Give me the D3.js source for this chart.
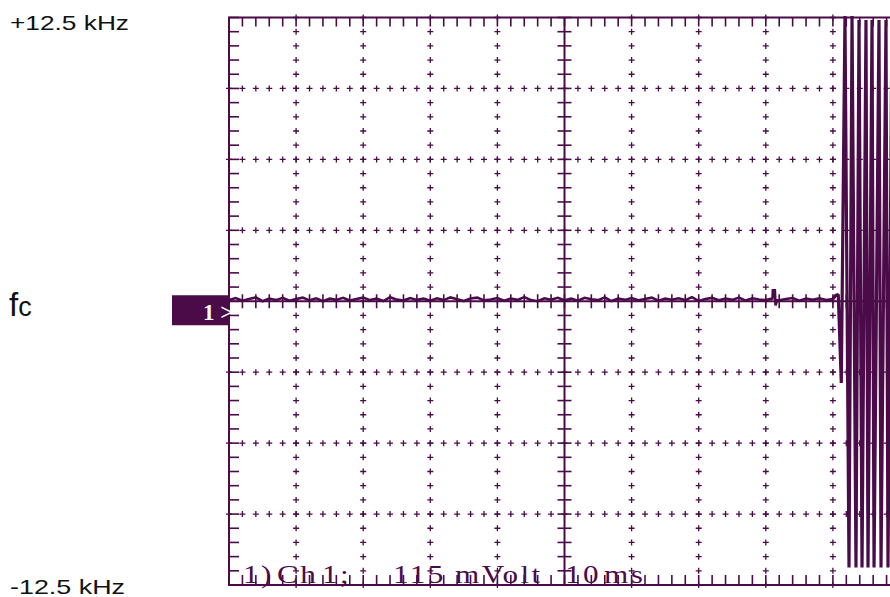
<!DOCTYPE html>
<html>
<head>
<meta charset="utf-8">
<script src="https://cdn.jsdelivr.net/npm/d3@7"></script>
<style>
  body { margin: 0; background: #fff; }
  svg { display: block; }
</style>
</head>
<body>
<script>
// frequency labels on the left (kHz)
var freqLabels = ["+12.5 kHz", "fc", "-12.5 kHz"];
var statusText = ["1)", "Ch", "1;", "115", "mVolt", "10", "ms"];

// trace: deviation from fc (kHz), one sample per ms from 0 to 90 ms
var noise = [0.05, 0.14, 0.02, 0.1, 0.17, 0.0, 0.12, 0.05, 0.15, 0.02,
    0.1, 0.16, 0.04, 0.13, 0.0, 0.12, 0.06, 0.15, 0.03, 0.1,
    0.16, 0.05, 0.12, 0.01, 0.18, 0.07, 0.03, 0.14, 0.06, 0.12,
    0.02, 0.13, 0.05, 0.17, 0.09, 0.01, 0.12, 0.16, 0.04, 0.08,
    0.14, 0.02, 0.12, 0.06, 0.18, 0.05, 0.0, 0.13, 0.07, 0.15,
    0.04, 0.12, 0.02, 0.15, 0.09, 0.05, 0.17, 0.01, 0.12, 0.06,
    0.14, 0.04, 0.1, 0.16, 0.02, 0.12, 0.07, 0.13, 0.05, 0.18,
    0.01, 0.1, 0.15, 0.04, 0.12, 0.06, 0.16, 0.03, 0.13, 0.08,
    0.05, 0.12, 0.04, 0.1, 0.14, 0.02, 0.12, 0.06, 0.13, 0.05, 0.1];
// small glitch near 81 ms
var glitchT = [81.05, 81.35, 81.45, 81.7];
var glitchF = [0.48, 0.48, -0.18, 0.05];
// burst at the end of the sweep
var burstT = [90.4, 90.8, 91.25, 91.8, 92.4, 92.85, 93.44, 93.89, 94.34, 94.93, 95.23, 95.83, 96.13, 96.87, 97.17, 97.91, 98.21, 98.8];
var burstF = [0.25, 0.3, -3.6, 12.57, -11.73, 12.57, -11.73, 12.39, -11.73, 12.39, -11.73, 12.39, -11.73, 12.39, -11.73, 12.39, -11.73, 12.39];

var width = 890,
    height = 597;
var col = "#4b0b49";

var svg = d3.select("body")
    .append("svg")
    .attr("width", width)
    .attr("height", height);

// 10 ms / div, 10 divs ; 3.125 kHz / div, 8 divs
var x = d3.scaleLinear().domain([0, 100]).range([229, 900]);
var y = d3.scaleLinear().domain([-12.5, 12.5]).range([585, 17.5]);

var minorX = d3.range(0, 100.01, 2);
var minorY = d3.range(-12.5, 12.51, 0.625);
var majorX = d3.range(10, 100, 10);
var majorY = d3.range(-9.375, 12.5, 3.125);

var grid = svg.append("g").attr("stroke", col).attr("fill", "none");

// frame
grid.append("path")
    .attr("stroke-width", 2)
    .attr("d", "M" + x(100) + "," + y(12.5) + "H" + x(0) + "V" + y(-12.5) + "H" + x(100));

// edge ticks
grid.selectAll(".tt").data(minorX).enter().append("line")
    .attr("x1", d => x(d)).attr("x2", d => x(d))
    .attr("y1", y(12.5)).attr("y2", y(12.5) + 9)
    .attr("stroke-width", 1.6);
grid.selectAll(".bt").data(minorX).enter().append("line")
    .attr("x1", d => x(d)).attr("x2", d => x(d))
    .attr("y1", y(-12.5)).attr("y2", y(-12.5) - 10)
    .attr("stroke-width", 1.6);
grid.selectAll(".lt").data(minorY).enter().append("line")
    .attr("x1", x(0)).attr("x2", x(0) + 10)
    .attr("y1", d => y(d)).attr("y2", d => y(d))
    .attr("stroke-width", 1.6);

// centre axes
grid.append("line")
    .attr("x1", x(0)).attr("x2", width)
    .attr("y1", y(0)).attr("y2", y(0))
    .attr("stroke-width", 2);
grid.append("line")
    .attr("x1", x(50)).attr("x2", x(50))
    .attr("y1", y(12.5)).attr("y2", y(-12.5))
    .attr("stroke-width", 2);
grid.selectAll(".cx").data(minorX).enter().append("line")
    .attr("x1", d => x(d)).attr("x2", d => x(d))
    .attr("y1", y(0) - 7).attr("y2", y(0) + 7)
    .attr("stroke-width", 1.6);
grid.selectAll(".cy").data(minorY).enter().append("line")
    .attr("x1", x(50) - 7).attr("x2", x(50) + 7)
    .attr("y1", d => y(d)).attr("y2", d => y(d))
    .attr("stroke-width", 1.6);

// dotted grid: small crosses
var crosses = [];
majorX.forEach(function (mx) {
    if (mx === 50) return;
    minorY.forEach(function (my) { crosses.push([mx, my]); });
});
majorY.forEach(function (my) {
    if (Math.abs(my) < 1e-9) return;
    minorX.forEach(function (mx) { crosses.push([mx, my]); });
});
grid.selectAll(".cr").data(crosses).enter().append("path")
    .attr("stroke-width", 1.3)
    .attr("d", function (d) {
        var px = x(d[0]), py = y(d[1]);
        return "M" + (px - 3) + "," + py + "H" + (px + 3) + "M" + px + "," + (py - 3) + "V" + (py + 3);
    });

// trace
var pts = noise.map(function (v, i) { return [i, v]; });
glitchT.forEach(function (t, i) { pts.push([t, glitchF[i]]); });
pts.sort(function (a, b) { return a[0] - b[0]; });
var burst = burstT.map(function (t, i) { return [t, burstF[i]]; });
burst.unshift(pts[pts.length - 1]);

var line = d3.line().x(d => x(d[0])).y(d => y(d[1]));
svg.append("path")
    .datum(pts)
    .attr("d", line)
    .attr("fill", "none")
    .attr("stroke", col)
    .attr("stroke-width", 2.6);
svg.append("path")
    .datum(burst)
    .attr("d", line)
    .attr("fill", "none")
    .attr("stroke", col)
    .attr("stroke-width", 3.2)
    .attr("stroke-linejoin", "bevel");

// channel marker
svg.append("rect")
    .attr("x", 172).attr("y", y(0) - 6)
    .attr("width", x(0) - 172).attr("height", 30)
    .attr("fill", col);
svg.append("text")
    .attr("x", 203).attr("y", y(0) + 19)
    .attr("fill", "#fff")
    .style("font-family", "'Liberation Serif', 'DejaVu Serif', serif")
    .style("font-size", "23px")
    .style("font-weight", "bold")
    .text("1 >");

// frequency labels
svg.append("text")
    .attr("x", 10).attr("y", 30)
    .attr("textLength", 119).attr("lengthAdjust", "spacingAndGlyphs")
    .style("font-family", "'Liberation Sans', Arial, sans-serif")
    .style("font-size", "21px")
    .attr("fill", "#111")
    .text(freqLabels[0]);
svg.append("text")
    .attr("x", 10).attr("y", 594)
    .attr("textLength", 115).attr("lengthAdjust", "spacingAndGlyphs")
    .style("font-family", "'Liberation Sans', Arial, sans-serif")
    .style("font-size", "21px")
    .attr("fill", "#111")
    .text(freqLabels[2]);
var fc = svg.append("text")
    .attr("x", 9).attr("y", 316)
    .style("font-family", "'Liberation Sans', Arial, sans-serif")
    .attr("fill", "#111");
fc.append("tspan").style("font-size", "33px").text(freqLabels[1].charAt(0));
fc.append("tspan").style("font-size", "27px").text(freqLabels[1].charAt(1));

// status line (screen font is wide and letter-spaced)
var statusX = [243, 277, 322, 393, 455, 565, 604];
svg.selectAll(".st").data(statusText).enter().append("text")
    .attr("transform", (d, i) => "translate(" + statusX[i] + ",583) scale(1.2,1)")
    .attr("fill", col)
    .style("font-family", "'Liberation Serif', 'DejaVu Serif', serif")
    .style("font-size", "26px")
    .style("letter-spacing", "2px")
    .text(d => d);
</script>
</body>
</html>
